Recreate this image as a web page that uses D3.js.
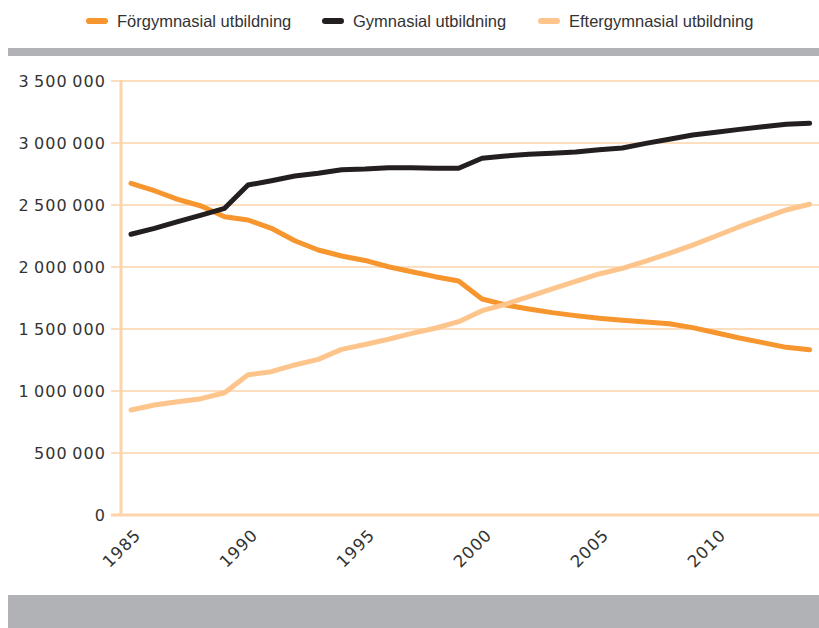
<!DOCTYPE html>
<html><head><meta charset="utf-8">
<script src="https://cdn.jsdelivr.net/npm/d3@7"></script>
<style>
body{margin:0;background:#fff;}
svg{display:block;}
</style></head>
<body>
<svg id="c" width="819" height="628"></svg>
<script>
const years = d3.range(1985, 2015);
const forgymnasial = [2675000,2615000,2546000,2492000,2406000,2379000,2312000,2212000,2137000,2089000,2053000,2002000,1962000,1922000,1887000,1742000,1694000,1661000,1632000,1608000,1586000,1570000,1557000,1542000,1511000,1470000,1427000,1390000,1352000,1333000];
const gymnasial = [2264000,2312000,2366000,2419000,2473000,2661000,2696000,2734000,2756000,2785000,2790000,2801000,2801000,2796000,2796000,2877000,2895000,2909000,2917000,2927000,2945000,2960000,2997000,3030000,3064000,3086000,3110000,3131000,3151000,3159000];
const eftergymnasial = [847000,887000,914000,938000,986000,1131000,1156000,1210000,1255000,1336000,1375000,1417000,1465000,1506000,1559000,1648000,1699000,1761000,1823000,1885000,1944000,1989000,2048000,2110000,2177000,2250000,2325000,2393000,2460000,2506000];
const seriesNames = ["Förgymnasial utbildning","Gymnasial utbildning","Eftergymnasial utbildning"];
const colors = ["#f7952e","#231f20","#fdc58c"];
const yTicks = [0,500000,1000000,1500000,2000000,2500000,3000000,3500000];
const xTicks = [1985,1990,1995,2000,2005,2010];

const svg = d3.select("#c");
const x = d3.scaleLinear().domain([1985,2014]).range([131,809.6]);
const y = d3.scaleLinear().domain([0,3500000]).range([515,81]);
const axisCol = "#fdd4ab";

// gray bars
svg.append("rect").attr("x",8).attr("y",48).attr("width",811).attr("height",8).attr("fill","#b1b2b6");
svg.append("rect").attr("x",8).attr("y",595).attr("width",811).attr("height",33).attr("fill","#b1b2b6");

// gridlines
svg.append("g").selectAll("line").data(yTicks.filter(d=>d>0)).join("line")
  .attr("x1",111).attr("x2",819).attr("y1",d=>y(d)).attr("y2",d=>y(d))
  .attr("stroke",axisCol).attr("stroke-width",1.6);
// axes
svg.append("line").attr("x1",121).attr("x2",121).attr("y1",y(3500000)-1).attr("y2",y(0))
  .attr("stroke",axisCol).attr("stroke-width",3);
svg.append("line").attr("x1",111).attr("x2",819).attr("y1",y(0)).attr("y2",y(0))
  .attr("stroke",axisCol).attr("stroke-width",3);

const fmt = v => d3.format(",")(v).replace(/,/g,"\u2009");
svg.append("g").selectAll("text").data(yTicks).join("text")
  .attr("x",106).attr("y",d=>y(d)+5.5).attr("text-anchor","end")
  .attr("font-family","DejaVu Sans").attr("font-size",16).attr("letter-spacing",1.1).attr("fill","#333")
  .text(fmt);

svg.append("g").selectAll("text").data(xTicks).join("text")
  .attr("transform",d=>`translate(${x(d)+11},${536}) rotate(-45)`)
  .attr("text-anchor","end")
  .attr("font-family","DejaVu Sans").attr("font-size",16.5).attr("letter-spacing",1).attr("fill","#333")
  .text(d=>d);

const line = d3.line().x((d,i)=>x(years[i])).y(d=>y(d));
[forgymnasial,gymnasial,eftergymnasial].forEach((s,i)=>{
  svg.append("path").datum(s).attr("d",line).attr("fill","none")
    .attr("stroke",colors[i]).attr("stroke-width",5).attr("stroke-linejoin","round").attr("stroke-linecap","round");
});
// legend
const legX = [86,322,538];
const lg = svg.append("g");
seriesNames.forEach((n,i)=>{
  lg.append("line").attr("x1",legX[i]+3).attr("x2",legX[i]+19).attr("y1",21).attr("y2",21)
    .attr("stroke",colors[i]).attr("stroke-width",6).attr("stroke-linecap","round");
  lg.append("text").attr("x",legX[i]+31).attr("y",27)
    .attr("font-family","Liberation Sans").attr("font-size",16.5).attr("fill","#333")
    .text(n);
});
</script>
</body></html>
